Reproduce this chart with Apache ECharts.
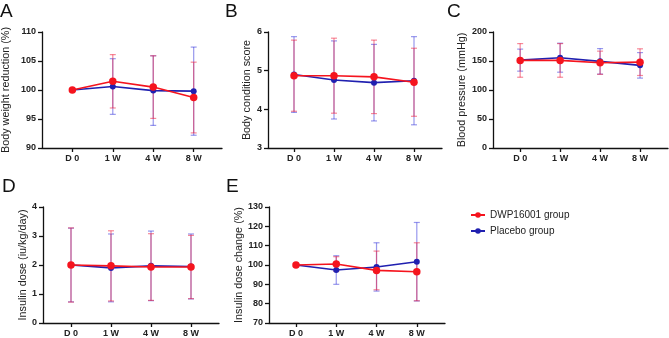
<!DOCTYPE html>
<html>
<head>
<meta charset="utf-8">
<script src="https://cdn.jsdelivr.net/npm/echarts@6/dist/echarts.min.js"></script>
<style>
  html, body { margin: 0; padding: 0; background: #fff; }
  #chart { width: 669px; height: 338px; }
</style>
</head>
<body>
<div id="chart"></div>
<script>
// time points
const categories = ['D 0', '1 W', '4 W', '8 W'];
const weekIndex = [0, 1, 2, 3];

// A - body weight reduction (%)
const weightDwp = [100, 101.5, 100.5, 98.7];
const weightDwpSd = [0, 4.6, 5.4, 6.1];
const weightPlacebo = [100, 100.6, 99.9, 99.8];
const weightPlaceboSd = [0, 4.8, 6.0, 7.6];

// B - body condition score
const scoreDwp = [4.87, 4.87, 4.84, 4.70];
const scoreDwpSd = [0.92, 0.97, 0.95, 0.88];
const scorePlacebo = [4.90, 4.76, 4.69, 4.74];
const scorePlaceboSd = [0.98, 1.01, 0.99, 1.14];

// C - blood pressure (mmHg)
const bpDwp = [151, 151, 147, 148];
const bpDwpSd = [29, 29, 20, 23];
const bpPlacebo = [151.5, 155.7, 149.4, 142.5];
const bpPlaceboSd = [19, 25, 22, 22];

// D - insulin dose (iu/kg/day)
const doseDwp = [2.0, 1.97, 1.93, 1.93];
const doseDwpSd = [1.28, 1.21, 1.15, 1.09];
const dosePlacebo = [2.0, 1.90, 1.97, 1.95];
const dosePlaceboSd = [1.27, 1.17, 1.20, 1.12];

// E - insulin dose change (%)
const changeDwp = [100, 100.5, 97.2, 96.5];
const changeDwpSd = [0, 3.8, 10, 15];
const changePlacebo = [100, 97.4, 99.0, 101.7];
const changePlaceboSd = [0, 7.4, 12.5, 20.3];

const FONT = '"Liberation Sans", Arial, sans-serif';
const RED = '#f5141e';
const BLUE = '#2020b0';
const RED_ERR = 'rgba(240,40,70,0.55)';
const BLUE_ERR = 'rgba(50,50,220,0.5)';

const panels = [
  {letter: 'A', letterX: 0, name: 'Body weight reduction (%)', nameGap: 30, left: 42, top: 32, width: 180, xMin: -0.75,
    yMin: 90, yMax: 110, yInt: 5, dwp: weightDwp, dwpSd: weightDwpSd, pla: weightPlacebo, plaSd: weightPlaceboSd},
  {letter: 'B', letterX: 225, name: 'Body condition score', nameGap: 15, left: 268, top: 32, width: 174, xMin: -0.65,
    yMin: 3, yMax: 6, yInt: 1, dwp: scoreDwp, dwpSd: scoreDwpSd, pla: scorePlacebo, plaSd: scorePlaceboSd},
  {letter: 'C', letterX: 447, name: 'Blood pressure (mmHg)', nameGap: 25, left: 493, top: 32, width: 175, xMin: -0.68,
    yMin: 0, yMax: 200, yInt: 50, dwp: bpDwp, dwpSd: bpDwpSd, pla: bpPlacebo, plaSd: bpPlaceboSd},
  {letter: 'D', letterX: 2, name: 'Insulin dose (iu/kg/day)', nameGap: 14, left: 43, top: 207, width: 176, xMin: -0.7,
    yMin: 0, yMax: 4, yInt: 1, dwp: doseDwp, dwpSd: doseDwpSd, pla: dosePlacebo, plaSd: dosePlaceboSd},
  {letter: 'E', letterX: 226, name: 'Insulin dose change (%)', nameGap: 23, left: 269, top: 207, width: 176, xMin: -0.67,
    yMin: 70, yMax: 130, yInt: 10, dwp: changeDwp, dwpSd: changeDwpSd, pla: changePlacebo, plaSd: changePlaceboSd}
];

function errRenderer(color){
  return function(params, api){
    let x = api.value(0), m = api.value(1), sd = api.value(2);
    if(!sd) return null;
    let top = api.coord([x, m + sd]);
    let bot = api.coord([x, m - sd]);
    let cap = 3;
    let style = {stroke: color, lineWidth: 1.2};
    return {
      type: 'group',
      children: [
        {type: 'line', shape: {x1: top[0], y1: top[1], x2: bot[0], y2: bot[1]}, style: style},
        {type: 'line', shape: {x1: top[0] - cap, y1: top[1], x2: top[0] + cap, y2: top[1]}, style: style},
        {type: 'line', shape: {x1: bot[0] - cap, y1: bot[1], x2: bot[0] + cap, y2: bot[1]}, style: style}
      ]
    };
  };
}

let grids = [], xAxes = [], yAxes = [], series = [], titles = [];
panels.forEach((p, i) => {
  grids.push({left: p.left, top: p.top, width: p.width, height: 116});
  titles.push({
    text: p.letter, left: p.letterX, top: p.top - 30, padding: 0,
    textStyle: {fontFamily: FONT, fontSize: 19, fontWeight: 'normal', color: '#111'}
  });
  xAxes.push({
    type: 'value', gridIndex: i, min: p.xMin, max: 3.7,
    axisLine: {onZero: false, lineStyle: {color: '#111', width: 1.3}},
    axisTick: {customValues: weekIndex, length: 4, lineStyle: {color: '#111', width: 1.3}},
    axisLabel: {customValues: weekIndex, formatter: v => categories[v], margin: 6,
      fontFamily: FONT, fontSize: 9, fontWeight: 'bold', color: '#222'},
    splitLine: {show: false}
  });
  yAxes.push({
    type: 'value', gridIndex: i, min: p.yMin, max: p.yMax, interval: p.yInt,
    name: p.name, nameLocation: 'middle', nameGap: p.nameGap,
    nameTextStyle: {fontFamily: FONT, fontSize: 10.8, color: '#222'},
    axisLine: {show: true, onZero: false, lineStyle: {color: '#111', width: 1.3}},
    axisTick: {show: true, length: 4, lineStyle: {color: '#111', width: 1.3}},
    axisLabel: {margin: 6, fontFamily: FONT, fontSize: 9, fontWeight: 'bold', color: '#222'},
    splitLine: {show: false}
  });
  let plaErr = weekIndex.map((w, k) => [w, p.pla[k], p.plaSd[k]]);
  let dwpErr = weekIndex.map((w, k) => [w, p.dwp[k], p.dwpSd[k]]);
  series.push({
    type: 'custom', xAxisIndex: i, yAxisIndex: i, z: 1, silent: true,
    renderItem: errRenderer(BLUE_ERR), data: plaErr
  });
  series.push({
    type: 'custom', xAxisIndex: i, yAxisIndex: i, z: 1, silent: true,
    renderItem: errRenderer(RED_ERR), data: dwpErr
  });
  series.push({
    name: 'Placebo group', type: 'line', xAxisIndex: i, yAxisIndex: i, z: 3,
    symbol: 'circle', symbolSize: 6, color: BLUE,
    lineStyle: {width: 1.6, color: BLUE},
    data: weekIndex.map((w, k) => [w, p.pla[k]])
  });
  series.push({
    name: 'DWP16001 group', type: 'line', xAxisIndex: i, yAxisIndex: i, z: 4,
    symbol: 'circle', symbolSize: 7.5, color: RED,
    lineStyle: {width: 1.6, color: RED},
    data: weekIndex.map((w, k) => [w, p.dwp[k]])
  });
});

const chart = echarts.init(document.getElementById('chart'));
chart.setOption({
  animation: false,
  backgroundColor: '#fff',
  title: titles,
  grid: grids,
  xAxis: xAxes,
  yAxis: yAxes,
  legend: {
    data: ['DWP16001 group', 'Placebo group'],
    orient: 'vertical', left: 465, top: 205,
    itemWidth: 14, itemHeight: 7, itemGap: 6,
    textStyle: {fontFamily: FONT, fontSize: 10, color: '#222'}
  },
  series: series
});
</script>
</body>
</html>
